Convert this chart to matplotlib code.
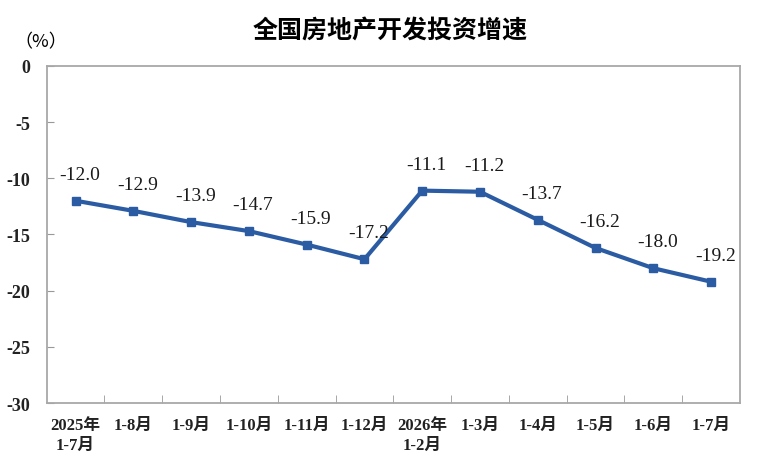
import numpy as np
import matplotlib.pyplot as plt

plt.rcParams['font.family'] = ['Liberation Serif', 'Noto Sans CJK SC']

categories = ['2025年\n1-7月', '1-8月', '1-9月', '1-10月', '1-11月', '1-12月',
              '2026年\n1-2月', '1-3月', '1-4月', '1-5月', '1-6月', '1-7月']
growth = [-12.0, -12.9, -13.9, -14.7, -15.9, -17.2,
          -11.1, -11.2, -13.7, -16.2, -18.0, -19.2]
yticks = [0, -5, -10, -15, -20, -25, -30]

fig = plt.figure(figsize=(7.66, 4.64), dpi=100)
ax = fig.add_axes([0.061, 0.129, 0.905, 0.727])

x = np.arange(len(categories))
ax.plot(x, growth, color='#2b5ca3', linewidth=3, marker='s', markersize=6)

for xi, v in zip(x, growth):
    ax.annotate(f'{v:.1f}', (xi, v), xytext=(3, 19), textcoords='offset points',
                ha='center', va='center', fontsize=14, color='#1a1a1a')

ax.set_xlim(-0.5, len(categories) - 0.5)
ax.set_ylim(-30, 0)
ax.set_yticks(yticks)
ax.set_yticklabels([str(t) for t in yticks], fontsize=13, fontweight='bold')
ax.set_xticks(x)
ax.set_xticklabels(categories, fontsize=12, fontweight='bold', linespacing=1.3)
ax.set_xticks(np.arange(0.5, len(categories) - 1, 1), minor=True)
ax.tick_params(axis='x', which='major', length=0, pad=10, colors='#222222')
ax.tick_params(axis='x', which='minor', direction='in', length=6, color='#999999')
ax.tick_params(axis='y', direction='in', length=5, pad=12, colors='#222222')
ax.tick_params(axis='y', color='#999999')

for s in ax.spines.values():
    s.set_color('#a8a8a8')
    s.set_linewidth(1.3)

fig.text(0.509, 0.935, '全国房地产开发投资增速', ha='center', va='center',
         fontsize=18, fontweight='bold', family=['Noto Sans CJK SC'])
fig.text(0.053, 0.908, '（%）', ha='center', va='center', fontsize=13,
         family=['Noto Sans CJK SC'])

plt.savefig('out.png', dpi=100)
